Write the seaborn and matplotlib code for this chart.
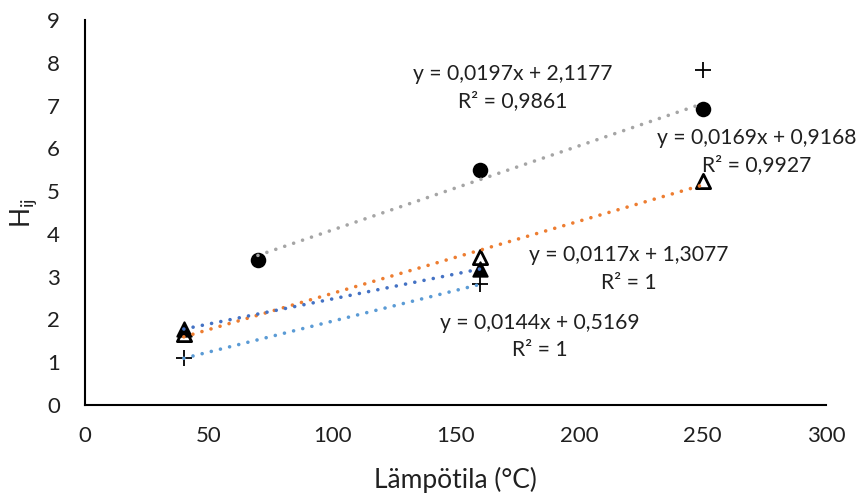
import numpy as np
import pandas as pd
import matplotlib
matplotlib.use("Agg")
import matplotlib.pyplot as plt
import seaborn as sns

# Measured points per series
circle_x = [70, 160, 250]
circle_y = [3.38, 5.50, 6.93]
open_tri_x = [40, 160, 250]
open_tri_y = [1.65, 3.47, 5.23]
filled_tri_x = [40, 160]
filled_tri_y = [1.776, 3.180]
plus_x = [40, 160, 250]
plus_y = [1.093, 2.821, 7.83]

# Linear trendlines: slope, intercept, R², x-range
trend_slopes = [0.0197, 0.0169, 0.0117, 0.0144]
trend_intercepts = [2.1177, 0.9168, 1.3077, 0.5169]
trend_r2 = ["0,9861", "0,9927", "1", "1"]
trend_xmin = [70, 40, 40, 40]
trend_xmax = [250, 250, 160, 160]
trend_colors = ["#A5A5A5", "#ED7D31", "#4472C4", "#5B9BD5"]
# label anchor (data coordinates) for each equation
label_x = [173, 272, 220, 184.2]
label_y = [7.43, 5.93, 3.18, 1.61]

x_ticks = [0, 50, 100, 150, 200, 250, 300]
y_ticks = list(range(0, 10))

sns.set_theme(style="white")
plt.rcParams["font.family"] = ["Lato", "DejaVu Sans"]
plt.rcParams["mathtext.fontset"] = "custom"
plt.rcParams["mathtext.rm"] = "Lato"

fig = plt.figure(figsize=(8.59, 4.93), dpi=100)
ax = fig.add_axes([0.099, 0.1785, 0.8626, 0.781])

# trendlines
for m, b, x0, x1, c in zip(trend_slopes, trend_intercepts, trend_xmin, trend_xmax, trend_colors):
    xs = np.array([x0, x1], dtype=float)
    df = pd.DataFrame({"x": xs, "y": m * xs + b})
    sns.lineplot(data=df, x="x", y="y", ax=ax, color=c, lw=2.6,
                 linestyle=(0, (0.01, 2.6)), dash_capstyle="round", zorder=4)

# markers
sns.scatterplot(x=circle_x, y=circle_y, ax=ax, marker="o", s=125, color="black",
                edgecolor="black", linewidth=0, zorder=3)
sns.scatterplot(x=open_tri_x, y=open_tri_y, ax=ax, marker="^", s=105, color="white",
                edgecolor="black", linewidth=2.0, zorder=3)
sns.scatterplot(x=filled_tri_x, y=filled_tri_y, ax=ax, marker="^", s=105, color="black",
                edgecolor="black", linewidth=1.5, zorder=3)
sns.scatterplot(x=plus_x, y=plus_y, ax=ax, marker="+", s=140, color="black",
                linewidth=1.3, zorder=3)

# equation labels
for m, b, r2, lx, ly in zip(trend_slopes, trend_intercepts, trend_r2, label_x, label_y):
    eq = "y = " + f"{m:.4f}".replace(".", ",") + "x + " + f"{b:.4f}".replace(".", ",")
    ax.text(lx, ly, eq + "\n" + "R² = " + r2, ha="center", va="center",
            fontsize=15.2, color="#202020", linespacing=1.45, zorder=5)

ax.set_xlim(0, 300)
ax.set_ylim(0, 9)
ax.set_xticks(x_ticks)
ax.set_yticks(y_ticks)
ax.tick_params(axis="both", length=0, labelsize=16, colors="#202020")
ax.tick_params(axis="x", pad=15)
ax.tick_params(axis="y", pad=18)
for s in ["top", "right"]:
    ax.spines[s].set_visible(False)
for s in ["left", "bottom"]:
    ax.spines[s].set_color("black")
    ax.spines[s].set_linewidth(1.5)

ax.set_xlabel("Lämpötila (°C)", fontsize=19, color="#202020", labelpad=15)
ax.set_ylabel(r"H$_{\mathregular{ij}}$", fontsize=19, color="#202020", labelpad=6)

fig.savefig("out.png", dpi=100, facecolor="white")
